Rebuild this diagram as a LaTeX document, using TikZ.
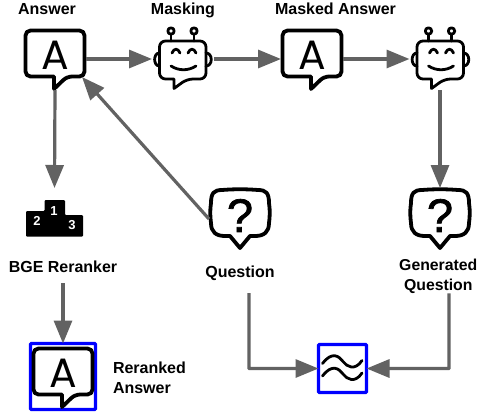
\documentclass[tikz,border=0pt]{standalone}
\usepackage{fontspec}
\setmainfont{Liberation Sans}
\newfontfamily\glyphfont{Poppins}
\newfontfamily\markfont[FakeBold=1.6]{Liberation Sans}
\usetikzlibrary{arrows.meta,calc}
\definecolor{linkgrey}{HTML}{626262}
\tikzset{
  x=1pt,y=-1pt,
  iconbox/.style={minimum width=62pt,minimum height=62pt,inner sep=0pt,outer sep=0pt},
  caption/.style={font=\fontsize{16}{20}\selectfont\bfseries,inner sep=0pt,outer sep=0pt,text height=11.5pt,text depth=3.5pt},
  captionblock/.style={font=\fontsize{16}{20}\selectfont\bfseries,inner sep=0pt,outer sep=0pt},
  bluebox/.style={draw=blue,line width=3.2pt,inner sep=0pt,outer sep=0pt,rounded corners=0.8pt},
  link/.style={draw=linkgrey,line width=3.2pt,-{Triangle[length=23pt,width=18pt]}},
  iconline/.style={draw=black,line width=3.8pt,line join=round,line cap=round},
  thinicon/.style={draw=black,line width=2.8pt,line join=round,line cap=round},
  podiumnum/.style={font=\fontsize{13}{13}\selectfont\bfseries,text=white,inner sep=0pt},
  bubblea/.pic={
    \draw[iconline,rounded corners=5pt] (0,-28.5) -- (29.5,-28.5) -- (29.5,17.5) -- (12,17.5)
      [sharp corners] -- (-1,30) -- (-1,17.5)
      [rounded corners=5pt] -- (-29.5,17.5) -- (-29.5,-28.5) -- (0,-28.5);
    \node[inner sep=0pt,font=\glyphfont\fontsize{41}{41}\selectfont] at (0,-4) {A};
  },
  robot/.pic={
    \draw[thinicon,rounded corners=6pt] (0,-18) -- (23,-18) -- (23,20) -- (4,20)
      [sharp corners] -- (-9,29.5) -- (-9,20)
      [rounded corners=6pt] -- (-23.5,20) -- (-23.5,-18) -- (0,-18);
    \draw[thinicon] (-23.5,-6) .. controls (-30,-6) and (-30,7) .. (-23.5,7);
    \draw[thinicon] (23,-6) .. controls (30,-6) and (30,7) .. (23,7);
    \draw[thinicon] (-12,-18) -- (-12,-24.5) (11,-18) -- (11,-24.5);
    \draw[thinicon] (-12,-28) circle[radius=3.2];
    \draw[thinicon] (11,-28) circle[radius=3.2];
    \draw[thinicon] (-11,-6) .. controls (-9,-11) and (-5,-11) .. (-3,-6);
    \draw[thinicon] (5,-6) .. controls (7,-11) and (11,-11) .. (13,-6);
    \draw[thinicon] (-12,7) .. controls (-4,12) and (5,12) .. (13,7);
  },
  bubbleq/.pic={
    \draw[iconline] (-10,17) -- (0,29) -- (10,17) -- (15,17)
      .. controls (24,17) and (29,13) .. (29,4)
      .. controls (30,-4) and (30,-9) .. (29,-16)
      .. controls (29,-26) and (26,-29) .. (18,-29)
      .. controls (6,-30) and (-6,-30) .. (-18,-29)
      .. controls (-26,-29) and (-29,-26) .. (-29,-16)
      .. controls (-30,-9) and (-30,-4) .. (-29,4)
      .. controls (-29,13) and (-24,17) .. (-15,17) -- cycle;
    \node[inner sep=0pt,font=\markfont\fontsize{47}{47}\selectfont] at (0,-3.5) {?};
  },
}
\begin{document}
\begin{tikzpicture}
\useasboundingbox (0,0) rectangle (478,416);
\fill[white] (0,0) rectangle (478,416);
% icons
\node[iconbox] (answer) at (55,59) {};
\pic at (answer.center) {bubblea};
\node[iconbox] (masking) at (183,59) {};
\pic at (masking.center) {robot};
\node[iconbox] (masked) at (312,59) {};
\pic at (masked.center) {bubblea};
\node[iconbox] (generator) at (440.5,59) {};
\pic at (generator.center) {robot};
\node[iconbox] (question) at (240,219) {};
\pic at (question.center) {bubbleq};
\node[iconbox] (generated) at (440,219) {};
\pic at (generated.center) {bubbleq};
% podium
\node[minimum width=57pt,minimum height=37pt,inner sep=0pt,outer sep=0pt] (podium) at (54.5,218.5) {};
\fill[black,rounded corners=1pt] (26,236.5) -- (26,211) -- (44.5,211) -- (44.5,200) -- (65,200) -- (65,215) -- (83,215) -- (83,236.5) -- cycle;
\node[podiumnum] (pone) at (54,211) {1};
\node[podiumnum] (ptwo) at (37,221) {2};
\node[podiumnum] (pthree) at (72,225.5) {3};
% boxes
\node[bluebox,minimum width=65pt,minimum height=66pt] (reranked) at (63,376.5) {};
\pic at (63,377) {bubblea};
\node[bluebox,minimum width=48pt,minimum height=48pt] (filter) at (342.5,368.5) {};
\draw[thinicon] (322.5,363.5) .. controls (332,351) and (339,356) .. (343,361.5) .. controls (347,367) and (355,371) .. (362,360.5);
\draw[thinicon] (322.5,376) .. controls (332,363.5) and (339,368.5) .. (343,374) .. controls (347,379.5) and (355,383.5) .. (362,373);
% captions
\node[caption] (lanswer) at (47,10) {Answer};
\node[caption] (lmasking) at (183,10) {Masking};
\node[caption] (lmasked) at (335.5,10) {Masked Answer};
\node[caption] (lbge) at (63,268) {BGE Reranker};
\node[caption] (lquestion) at (240,273) {Question};
\node[captionblock,align=center,font=\fontsize{15.8}{20}\selectfont\bfseries] (lgenerated) at (438.3,276) {Generated\\Question};
\node[captionblock,align=left,anchor=west] (lreranked) at (113,378) {Reranked\\Answer};
% connectors
\draw[link] (answer.east) -- (masking.west);
\draw[link] (masking.east) -- (masked.west);
\draw[link] (masked.east) -- (generator.west);
\draw[link] (answer.south) -- ([yshift=12pt]podium.north);
\draw[link] ([xshift=-0.5pt]generator.south) -- (generated.north);
\draw[link] (question.west) -- ([shift={(-4,-13)}]answer.south east);
\draw[link] ([yshift=-7.5pt]lbge.south) -- (reranked.north);
\draw[link,rounded corners=0.5pt] ([shift={(9,12.5)}]lquestion.south) |- (filter.west);
\draw[link,rounded corners=0.5pt] ([xshift=10.7pt]lgenerated.south) |- (filter.east);
\end{tikzpicture}
\end{document}
